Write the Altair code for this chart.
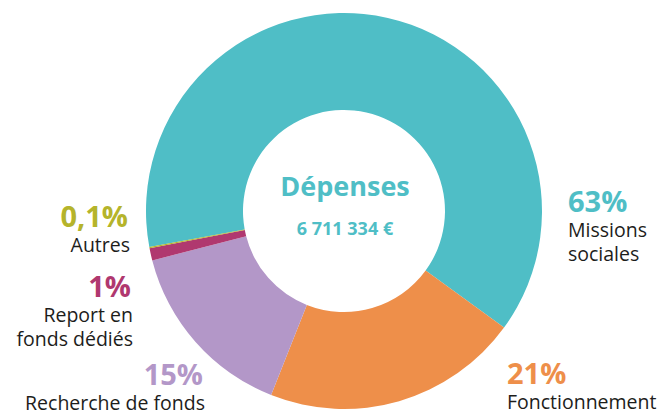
import math
import altair as alt
import pandas as pd

# ---- data ----
categories = ["Missions sociales", "Fonctionnement", "Recherche de fonds",
              "Report en fonds dédiés", "Autres"]
values = [63, 21, 15, 1, 0.1]
pct_labels = ["63%", "21%", "15%", "1%", "0,1%"]
name_lines = [["Missions", "sociales"], ["Fonctionnement"], ["Recherche de fonds"],
              ["Report en", "fonds dédiés"], ["Autres"]]
colors = ["#4FBEC6", "#EE8F4A", "#B397C8", "#B0386F", "#B5B42B"]
title_text = "Dépenses"
total_text = "6 711 334 €"

# ---- layout (pixels, chart coordinates) ----
W, H = 651, 406
CX, CY = 336, 203
R_OUT, R_IN = 198, 101
START = math.radians(259.5)
FONT = "Open Sans"
TEXT_COLOR = "#1d1d1b"

# label anchor: (x, pct baseline y, align)
label_pos = {
    "Missions sociales": (560, 204, "left"),
    "Fonctionnement": (499, 376, "left"),
    "Recherche de fonds": (195, 377, "right"),
    "Report en fonds dédiés": (123, 289, "right"),
    "Autres": (120, 219, "right"),
}

df = pd.DataFrame({"cat": categories, "value": values, "idx": range(len(values))})

arc = alt.Chart(df).mark_arc(radius=R_OUT, radius2=R_IN, stroke=None).encode(
    theta=alt.Theta("value:Q", stack=True,
                    scale=alt.Scale(range=[START, START + 2 * math.pi])),
    color=alt.Color("cat:N", scale=alt.Scale(domain=categories, range=colors), legend=None),
    order=alt.Order("idx:Q"),
    x=alt.value(CX),
    y=alt.value(CY),
)

layers = [arc]
base = alt.Chart(pd.DataFrame({"a": [0]}))
for cat, pct, lines, col in zip(categories, pct_labels, name_lines, colors):
    x, y, align = label_pos[cat]
    layers.append(base.mark_text(text=pct, font=FONT, fontSize=29, fontWeight="bold",
                                 color=col, align=align, baseline="alphabetic")
                  .encode(x=alt.value(x), y=alt.value(y)))
    for i, line in enumerate(lines):
        layers.append(base.mark_text(text=line, font=FONT, fontSize=19.5,
                                     color=TEXT_COLOR, align=align, baseline="alphabetic")
                      .encode(x=alt.value(x + (2 if align == "right" else 0)),
                              y=alt.value(y + 25 + i * 24)))

layers.append(base.mark_text(text=title_text, font=FONT, fontSize=27, fontWeight="bold",
                             color=colors[0], align="center", baseline="alphabetic")
              .encode(x=alt.value(CX + 1), y=alt.value(188)))
layers.append(base.mark_text(text=total_text, font=FONT, fontSize=18, fontWeight="bold",
                             color=colors[0], align="center", baseline="alphabetic")
              .encode(x=alt.value(CX + 1), y=alt.value(227)))

chart = alt.layer(*layers).properties(
    width=W, height=H, padding=0, autosize=alt.AutoSizeParams(type="none")
).configure_view(stroke=None)

chart.save("out.html", embed_options={"renderer": "svg", "actions": False})
